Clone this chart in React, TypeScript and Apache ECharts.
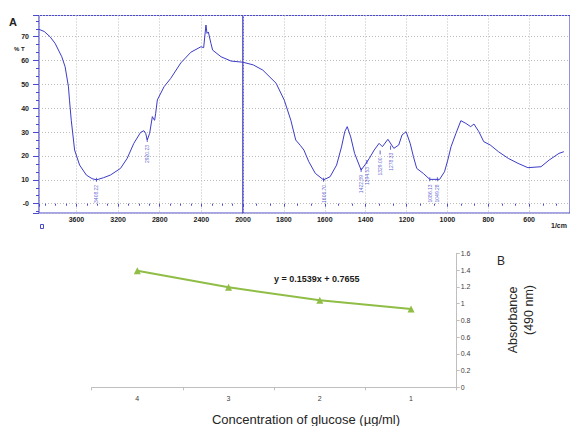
import React, { useEffect, useRef } from "react";
import * as echarts from "echarts";

// ---- FTIR spectrum (panel A) ----
const highWavenumbers = [3960, 3910, 3854, 3805, 3741, 3709, 3677, 3667, 3650, 3618, 3570, 3505, 3450, 3408, 3340, 3274, 3177, 3113, 3049, 2984, 2952, 2935, 2920, 2897, 2871, 2855, 2849, 2839, 2823, 2759, 2695, 2598, 2501, 2404, 2378, 2356, 2346, 2333, 2308, 2292, 2211, 2115, 2000];
const highTransmittance = [73.1, 72.2, 70.0, 67.2, 61.6, 57.4, 49.0, 43.4, 35.0, 22.5, 16.2, 12.0, 10.5, 10.0, 10.9, 12.0, 14.8, 19.0, 25.3, 29.9, 30.6, 29.5, 26.7, 29.5, 36.5, 35.2, 35.0, 37.9, 43.5, 49.0, 52.5, 59.0, 63.5, 65.8, 65.4, 74.9, 71.4, 72.0, 67.2, 64.4, 61.6, 59.8, 59.3];
const lowWavenumbers = [2000, 1950, 1903, 1838, 1798, 1766, 1742, 1720, 1702, 1678, 1646, 1606, 1574, 1542, 1518, 1502, 1490, 1473, 1454, 1422, 1398, 1382, 1358, 1334, 1318, 1291, 1262, 1238, 1222, 1202, 1182, 1166, 1150, 1118, 1086, 1038, 1014, 998, 982, 958, 934, 910, 886, 870, 846, 822, 790, 750, 702, 654, 606, 542, 502, 454, 430];
const lowTransmittance = [59.3, 58.2, 56.0, 50.5, 43.4, 35.0, 26.7, 24.5, 22.5, 17.6, 12.7, 10.0, 11.3, 16.2, 23.8, 30.2, 32.3, 28.0, 21.1, 14.1, 16.9, 19.0, 22.5, 25.3, 23.9, 27.0, 23.2, 24.6, 28.8, 30.2, 25.3, 19.7, 14.8, 12.7, 10.2, 10.2, 13.4, 18.3, 23.9, 29.5, 34.8, 33.7, 32.3, 33.4, 30.2, 26.0, 24.6, 21.8, 19.0, 16.9, 15.1, 15.5, 18.3, 21.1, 21.8];
const peakWavenumbers = [3408, 2920, 1606, 1422, 1394, 1329, 1278, 1086, 1049];
const peakTransmittance = [10.0, 26.7, 10.0, 14.1, 17.5, 21.5, 23.5, 10.2, 10.2];
const peakLabels = ["3408.22", "2920.23", "1606.70", "1422.39", "1394.53", "1329.00", "1278.33", "1086.13", "1049.28"];

// ---- Calibration curve (panel B) ----
const concentrations = ["4", "3", "2", "1"];
const absorbance = [1.392, 1.194, 1.039, 0.935];
const equationText = "y = 0.1539x + 0.7655";

const BLUE = "#3c3cc8";
const FRAME = "#4a4ad0";
const GRIDC = "#bdbdbd";
const FONT = "Liberation Sans, Arial, sans-serif";

function zip(a: number[], b: number[]) {
  return a.map((v, i) => [v, b[i]]);
}

export default function App() {
  const ref = useRef<HTMLDivElement>(null);
  useEffect(() => {
    if (!ref.current) return;
    const chart = echarts.init(ref.current, undefined, { renderer: "svg" });

    const yMin = -3.9;
    const yMax = 78.9;
    const peaks = peakWavenumbers.map((w, i) => ({ value: [w, peakTransmittance[i]], name: peakLabels[i] }));
    const peakSeries = (idx: number, filt: (w: number) => boolean) => ({
      type: "scatter",
      xAxisIndex: idx,
      yAxisIndex: idx,
      data: peaks.filter((p) => filt(p.value[0] as number)),
      symbol: "rect",
      symbolSize: [1, 4],
      itemStyle: { color: BLUE },
      label: {
        show: true,
        formatter: "{b}",
        position: "bottom",
        distance: 3,
        rotate: 90,
        align: "right",
        verticalAlign: "middle",
        fontSize: 5,
        color: BLUE,
        fontFamily: FONT,
      },
      silent: true,
      z: 5,
    });

    const dotted = { show: true, lineStyle: { color: GRIDC, type: [1, 2], width: 1 } };

    const yAxisBase = (gi: number, showLabels: boolean) => ({
      type: "value",
      gridIndex: gi,
      min: yMin,
      max: yMax,
      splitNumber: 8,
      axisLine: { show: false },
      axisTick: { show: showLabels, length: 6, lineStyle: { color: FRAME } },
      minorTick: { show: showLabels, splitNumber: 3, length: 3, lineStyle: { color: FRAME } },
      axisLabel: {
        show: showLabels,
        showMinLabel: false,
        showMaxLabel: false,
        margin: 10,
        fontSize: 7,
        fontWeight: "bold",
        color: "#222",
        fontFamily: FONT,
        formatter: (v: number) => (Math.abs(v) < 1e-9 ? "-0" : String(Math.round(v))),
      },
      splitLine: dotted,
    });

    const xLabel = {
      margin: 3,
      fontSize: 7,
      fontWeight: "bold",
      color: "#222",
      fontFamily: FONT,
      formatter: (v: number) => String(Math.round(v)),
    };

    chart.setOption({
      animation: false,
      backgroundColor: "#ffffff",
      grid: [
        { left: 39, top: 15.5, width: 204, height: 197.5, show: true, borderColor: FRAME, borderWidth: 1.2, backgroundColor: "transparent" },
        { left: 243, top: 15.5, width: 333.3, height: 197.5, show: true, borderColor: FRAME, borderWidth: 1.2, backgroundColor: "transparent" },
        { left: 91.7, top: 253.3, width: 365, height: 134, show: false },
      ],
      xAxis: [
        {
          type: "value",
          gridIndex: 0,
          min: 2000,
          max: 3960,
          interval: 400,
          inverse: true,
          axisLine: { show: false },
          axisTick: { show: true, length: 3, lineStyle: { color: FRAME } },
          minorTick: { show: true, splitNumber: 4, length: 2, lineStyle: { color: FRAME } },
          axisLabel: { ...xLabel, showMinLabel: false, showMaxLabel: false },
          splitLine: dotted,
        },
        {
          type: "value",
          gridIndex: 1,
          min: 400,
          max: 2000,
          interval: 200,
          inverse: true,
          axisLine: { show: false },
          axisTick: { show: true, length: 3, lineStyle: { color: FRAME } },
          minorTick: { show: true, splitNumber: 3, length: 2, lineStyle: { color: FRAME } },
          axisLabel: { ...xLabel, showMinLabel: false, showMaxLabel: true },
          splitLine: dotted,
        },
        {
          type: "category",
          gridIndex: 2,
          data: concentrations,
          boundaryGap: true,
          axisLine: { show: true, lineStyle: { color: "#bfbfbf", width: 1 } },
          axisTick: { show: true, length: 3, lineStyle: { color: "#bfbfbf" } },
          axisLabel: { fontSize: 7, color: "#404040", margin: 8, fontFamily: FONT },
          splitLine: { show: false },
        },
      ],
      yAxis: [
        yAxisBase(0, true),
        yAxisBase(1, false),
        {
          type: "value",
          gridIndex: 2,
          position: "right",
          min: 0,
          max: 1.6,
          interval: 0.2,
          axisLine: { show: true, lineStyle: { color: "#bfbfbf", width: 1 } },
          axisTick: { show: true, length: 3, lineStyle: { color: "#bfbfbf" } },
          axisLabel: {
            fontSize: 7,
            color: "#404040",
            margin: 4,
            fontFamily: FONT,
            formatter: (v: number) => String(Math.round(v * 10) / 10),
          },
          splitLine: { show: false },
        },
      ],
      series: [
        {
          type: "line",
          xAxisIndex: 0,
          yAxisIndex: 0,
          data: zip(highWavenumbers, highTransmittance),
          showSymbol: false,
          symbol: "none",
          lineStyle: { color: BLUE, width: 1 },
          silent: true,
        },
        {
          type: "line",
          xAxisIndex: 1,
          yAxisIndex: 1,
          data: zip(lowWavenumbers, lowTransmittance),
          showSymbol: false,
          symbol: "none",
          lineStyle: { color: BLUE, width: 1 },
          silent: true,
        },
        peakSeries(0, (w) => w >= 2000),
        peakSeries(1, (w) => w < 2000),
        {
          type: "line",
          xAxisIndex: 2,
          yAxisIndex: 2,
          data: absorbance,
          symbol: "triangle",
          symbolSize: 7,
          showSymbol: true,
          itemStyle: { color: "#8fbd45" },
          lineStyle: { color: "#8fbd45", width: 2 },
          silent: true,
        },
      ],
      graphic: [
        { type: "text", left: 9, top: 16, style: { text: "A", fontSize: 11, fontWeight: "bold", fill: "#222", fontFamily: FONT } },
        { type: "text", left: 14, top: 46, style: { text: "% T", fontSize: 6, fontWeight: "bold", fill: "#222", fontFamily: FONT } },
        { type: "text", left: 551, top: 222, style: { text: "1/cm", fontSize: 7, fontWeight: "bold", fill: "#222", fontFamily: FONT } },
        { type: "rect", shape: { x: 40.5, y: 224.5, width: 3, height: 4 }, style: { fill: "none", stroke: FRAME, lineWidth: 1 } },
        { type: "text", left: 274, top: 274.5, style: { text: equationText, fontSize: 9, fontWeight: "bold", fill: "#1a1a1a", fontFamily: FONT } },
        { type: "text", left: 497, top: 255, style: { text: "B", fontSize: 12, fill: "#262626", fontFamily: FONT } },
        {
          type: "text",
          x: 513,
          y: 286.5,
          rotation: Math.PI / 2,
          style: { text: "Absorbance", fontSize: 12.5, fill: "#262626", fontFamily: FONT, align: "right", verticalAlign: "middle" },
        },
        {
          type: "text",
          x: 528.5,
          y: 285,
          rotation: Math.PI / 2,
          style: { text: "(490 nm)", fontSize: 12.5, fill: "#262626", fontFamily: FONT, align: "right", verticalAlign: "middle" },
        },
        {
          type: "text",
          x: 306,
          y: 419,
          style: { text: "Concentration of glucose (µg/ml)", fontSize: 13, fill: "#262626", fontFamily: FONT, align: "center", verticalAlign: "middle" },
        },
      ],
    });
    return () => chart.dispose();
  }, []);
  return <div ref={ref} style={{ position: "absolute", left: 0, top: 0, width: 570, height: 426, overflow: "hidden" }} />;
}
